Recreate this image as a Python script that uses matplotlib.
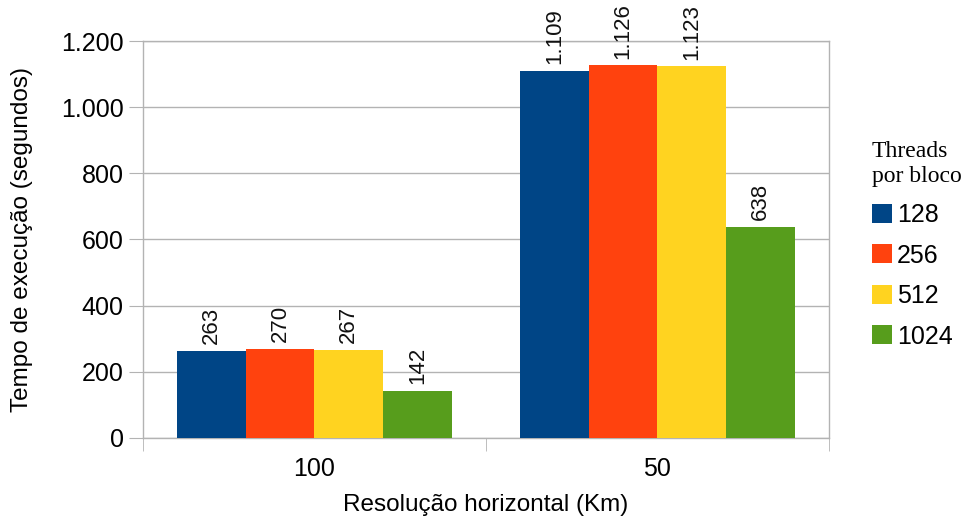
import matplotlib.pyplot as plt
import numpy as np
from matplotlib.patches import Patch

plt.rcParams['font.family'] = ['Liberation Sans', 'DejaVu Sans']

# tempos de execução por resolução e threads por bloco
resolucoes = ['100', '50']
threads = ['128', '256', '512', '1024']
t128 = [263, 1109]
t256 = [270, 1126]
t512 = [267, 1123]
t1024 = [142, 638]
series = [t128, t256, t512, t1024]
cores = ['#004586', '#ff420e', '#ffd320', '#579d1c']


def fmt(v):
    # separador de milhar no padrão pt-BR
    return f"{v:,}".replace(',', '.')


fig = plt.figure(figsize=(9.61, 5.19), dpi=100)
ax = fig.add_axes([0.1488, 0.1561, 0.7138, 0.7649])

x = np.arange(len(resolucoes))
w = 0.2
for i, (vals, c) in enumerate(zip(series, cores)):
    pos = x - 0.3 + i * w
    ax.bar(pos, vals, width=w, color=c, zorder=3)
    for p, v in zip(pos, vals):
        ax.text(p, v + 20, fmt(v), rotation=90, ha='center', va='bottom',
                fontsize=16, color='#111111', zorder=4)

ax.set_xlim(-0.5, 1.5)
ax.set_ylim(0, 1200)
ax.set_yticks(range(0, 1201, 200))
ax.set_yticklabels([fmt(v) for v in range(0, 1201, 200)])
ax.yaxis.grid(True, color='#b3b3b3', linewidth=1, zorder=0)

ax.set_xticks(x)
ax.set_xticklabels(resolucoes)
ax.set_xticks([-0.5, 0.5, 1.5], minor=True)
ax.tick_params(axis='x', which='major', length=0, pad=14, labelsize=18)
ax.tick_params(axis='x', which='minor', length=9, color='#b3b3b3', direction='out')
ax.tick_params(axis='y', length=10, color='#b3b3b3', direction='out', pad=4, labelsize=18)

for s in ax.spines.values():
    s.set_color('#b3b3b3')
    s.set_linewidth(1)

ax.set_xlabel('Resolução horizontal (Km)', fontsize=17.5)
ax.set_ylabel('Tempo de execução (segundos)', fontsize=17.5)
ax.xaxis.set_label_coords(0.5, -0.142)
ax.yaxis.set_label_coords(-0.160, 0.5)

handles = [Patch(facecolor=c, label=t) for c, t in zip(cores, threads)]
leg = fig.legend(handles=handles, loc='center left', bbox_to_anchor=(0.897, 0.528),
                 frameon=False, fontsize=18, title='Threads\npor bloco',
                 handlelength=0.8, handleheight=0.8, handletextpad=0.2,
                 labelspacing=0.66, borderaxespad=0)
leg.get_title().set_fontfamily('Liberation Serif')
leg.get_title().set_fontsize(17)
leg._legend_box.align = 'left'

fig.savefig('out.png', dpi=100)
